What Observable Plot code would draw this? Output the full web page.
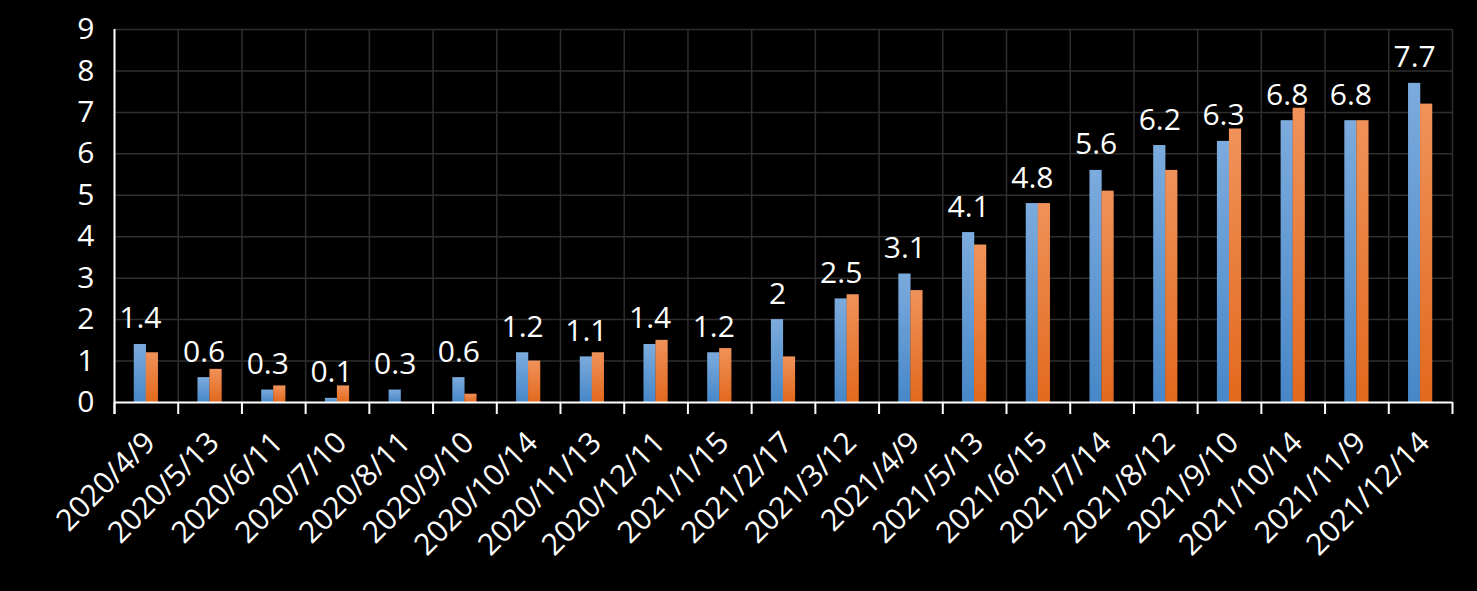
<!DOCTYPE html>
<html><head><meta charset="utf-8">
<script src="https://cdn.jsdelivr.net/npm/d3@7"></script>
<script src="https://cdn.jsdelivr.net/npm/@observablehq/plot@0.6"></script>
<style>html,body{margin:0;padding:0;background:#000;overflow:hidden;}</style>
</head><body><div id="chart"></div>
<script>
const dates = ["2020/4/9","2020/5/13","2020/6/11","2020/7/10","2020/8/11","2020/9/10","2020/10/14","2020/11/13","2020/12/11","2021/1/15","2021/2/17","2021/3/12","2021/4/9","2021/5/13","2021/6/15","2021/7/14","2021/8/12","2021/9/10","2021/10/14","2021/11/9","2021/12/14"];
const seriesBlue = [1.4,0.6,0.3,0.1,0.3,0.6,1.2,1.1,1.4,1.2,2,2.5,3.1,4.1,4.8,5.6,6.2,6.3,6.8,6.8,7.7];
const seriesOrange = [1.2,0.8,0.4,0.4,0,0.2,1.0,1.2,1.5,1.3,1.1,2.6,2.7,3.8,4.8,5.1,5.6,6.6,7.1,6.8,7.2];
const yTicks = [0,1,2,3,4,5,6,7,8,9];

const rows = dates.map((d, i) => ({date: d, blue: seriesBlue[i], orange: seriesOrange[i]}));

const W = 1477, H = 591, ML = 114, MR = 25, MT = 29, MB = 189;
const step = (W - ML - MR) / dates.length;
const half = 12;
const gridColor = "#2e2e2e";
const last = [dates[dates.length - 1]];

const svg = Plot.plot({
  width: W, height: H,
  marginLeft: ML, marginRight: MR, marginTop: MT, marginBottom: MB,
  style: {background: "#000", color: "#fff", fontFamily: "'Open Sans', sans-serif", fontSize: "30px"},
  x: {type: "band", domain: dates, paddingInner: 0.62, paddingOuter: 0.31, round: false, label: null},
  y: {domain: [0, 9], label: null},
  marks: [
    Plot.ruleY(yTicks.filter(t => t > 0), {stroke: gridColor, strokeWidth: 1.5}),
    Plot.ruleX(dates, {x: d => d, y1: 9, y2: 0, dx: -step / 2, stroke: gridColor, strokeWidth: 1.5}),
    Plot.ruleX(last, {x: d => d, y1: 9, y2: 0, dx: step / 2, stroke: gridColor, strokeWidth: 1.5}),
    Plot.barY(rows, {x: "date", y: "blue", fill: "url(#gBlue)", insetRight: half}),
    Plot.barY(rows, {x: "date", y: "orange", fill: "url(#gOrange)", insetLeft: half}),
    Plot.text(rows, {x: "date", y: "blue", text: d => String(d.blue), dx: -half / 2, dy: -16, lineAnchor: "bottom", fill: "#fff", fontSize: 30}),
    Plot.ruleY([0], {stroke: "#fff", strokeWidth: 2}),
    Plot.ruleX(dates, {x: d => d, y1: 0, y2: 0, insetBottom: -12, dx: -step / 2, stroke: "#fff", strokeWidth: 2}),
    Plot.ruleX(last, {x: d => d, y1: 0, y2: 0, insetBottom: -12, dx: step / 2, stroke: "#fff", strokeWidth: 2}),
    Plot.ruleX([dates[0]], {x: d => d, y1: 9, y2: 0, insetBottom: -12, dx: -step / 2, stroke: "#fff", strokeWidth: 2}),
    Plot.axisY({ticks: yTicks, tickSize: 0, tickPadding: 20, fontSize: 30, tickFormat: d => String(d)}),
    Plot.axisX({tickSize: 0, tickRotate: -45, tickPadding: 35, dx: 4, fontSize: 30})
  ]
});

const ns = "http://www.w3.org/2000/svg";
const defs = document.createElementNS(ns, "defs");
function grad(id, top, bottom) {
  const g = document.createElementNS(ns, "linearGradient");
  g.setAttribute("id", id);
  g.setAttribute("x1", "0"); g.setAttribute("y1", "0");
  g.setAttribute("x2", "0"); g.setAttribute("y2", "1");
  [[0, top], [1, bottom]].forEach(([o, c]) => {
    const s = document.createElementNS(ns, "stop");
    s.setAttribute("offset", o);
    s.setAttribute("stop-color", c);
    g.appendChild(s);
  });
  defs.appendChild(g);
}
grad("gBlue", "#7cabdd", "#4787c8");
grad("gOrange", "#f0925a", "#e2691d");
svg.insertBefore(defs, svg.firstChild);
document.getElementById("chart").appendChild(svg);
</script>
</body></html>
